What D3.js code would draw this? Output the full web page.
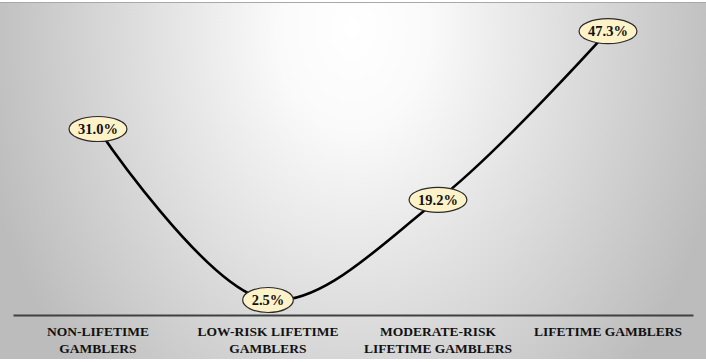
<!DOCTYPE html>
<html>
<head>
<meta charset="utf-8">
<script src="https://cdn.jsdelivr.net/npm/d3@7"></script>
<style>
  html, body { margin: 0; padding: 0; background: #ffffff; }
  svg { display: block; }
  text { font-family: "Liberation Serif", "Times New Roman", "DejaVu Serif", serif; font-weight: bold; }
</style>
</head>
<body>
<svg id="chart" width="706" height="362"></svg>
<script>
// ---- data ----
const categories = [
  "NON-LIFETIME GAMBLERS",
  "LOW-RISK LIFETIME GAMBLERS",
  "MODERATE-RISK LIFETIME GAMBLERS",
  "LIFETIME GAMBLERS"
];
const categoryLines = [
  ["NON-LIFETIME", "GAMBLERS"],
  ["LOW-RISK LIFETIME", "GAMBLERS"],
  ["MODERATE-RISK", "LIFETIME GAMBLERS"],
  ["LIFETIME GAMBLERS"]
];
const values = [31.0, 2.5, 19.2, 47.3];
const valueLabels = ["31.0%", "2.5%", "19.2%", "47.3%"];

// ---- layout ----
const W = 706, H = 362;
const svg = d3.select("#chart");
const defs = svg.append("defs");

const grad = defs.append("radialGradient")
  .attr("id", "bg")
  .attr("gradientUnits", "userSpaceOnUse")
  .attr("cx", 353).attr("cy", 30).attr("r", 1)
  .attr("gradientTransform", "translate(353,30) scale(380,500) translate(-353,-30)");
grad.append("stop").attr("offset", 0).attr("stop-color", "#ffffff");
grad.append("stop").attr("offset", 0.2).attr("stop-color", "#fafafa");
grad.append("stop").attr("offset", 1).attr("stop-color", "#bcbcbc");

svg.append("rect").attr("x", 0).attr("y", 0).attr("width", W).attr("height", H).attr("fill", "#ffffff");
svg.append("rect").attr("x", 0).attr("y", 3).attr("width", W).attr("height", 356).attr("fill", "url(#bg)");
svg.append("line").attr("x1", 0).attr("x2", W).attr("y1", 2.5).attr("y2", 2.5)
  .attr("stroke", "#a8a8a8").attr("stroke-width", 1);

const x = d3.scaleBand().domain(categories).range([13, 693]).paddingInner(0).paddingOuter(0);
const y = d3.scaleLinear().domain([0, 50]).range([315, 15]);

// axis
const axis = svg.append("g").attr("transform", `translate(0,${y(0)})`)
  .call(d3.axisBottom(x).tickSize(0).tickFormat(""));
axis.select(".domain").attr("stroke", "#404040").attr("stroke-width", 2);

// category labels
const catG = svg.append("g");
categories.forEach((c, i) => {
  const cx = x(c) + x.bandwidth() / 2;
  const t = catG.append("text")
    .attr("x", cx)
    .attr("y", 336)
    .attr("text-anchor", "middle")
    .attr("font-size", "13.5px")
    .attr("fill", "#111");
  categoryLines[i].forEach((ln, j) => {
    t.append("tspan").attr("x", cx).attr("dy", j === 0 ? 0 : 17).text(ln);
  });
});

// line
const pts = values.map((v, i) => [x(categories[i]) + x.bandwidth() / 2, y(v)]);
const line = d3.line().curve(d3.curveCatmullRom.alpha(0.5));
svg.append("path").attr("d", line(pts))
  .attr("fill", "none").attr("stroke", "#000").attr("stroke-width", 2.6);

// labels with ellipses
const lab = svg.append("g").selectAll("g").data(values).join("g")
  .attr("transform", (d, i) => `translate(${pts[i][0]},${pts[i][1]})`);
lab.append("ellipse").attr("fill", "#fdf2c8").attr("stroke", "#2a2a2a").attr("stroke-width", 1.2);
const txt = lab.append("text")
  .attr("text-anchor", "middle")
  .attr("dy", "0.35em")
  .attr("font-size", "14.5px")
  .attr("fill", "#111")
  .text((d, i) => valueLabels[i]);
txt.each(function() {
  const w = this.getComputedTextLength();
  d3.select(this.parentNode).select("ellipse").attr("rx", w / 2 + 9).attr("ry", 12.5);
});
</script>
</body>
</html>
